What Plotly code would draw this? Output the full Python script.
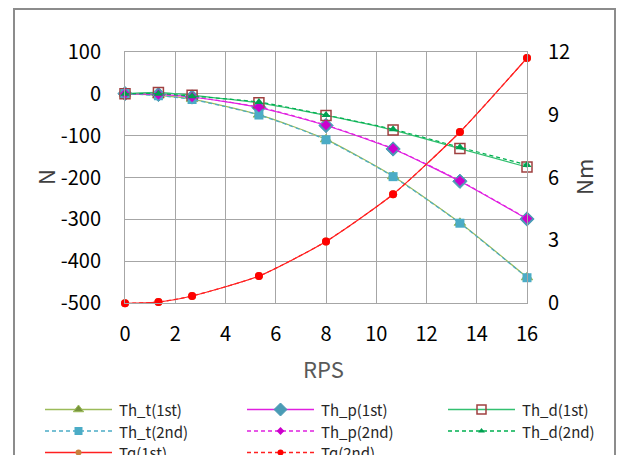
import plotly.graph_objects as go

rps = [0, 1.33, 2.67, 5.33, 8, 10.67, 13.33, 16]
th_t_1st = [0, -4, -13, -50, -109, -197, -308, -438]
th_t_2nd = [0, -5, -14, -51, -110, -198, -309, -439]
th_p_1st = [0, -2, -8, -33, -76, -132, -209, -299]
th_p_2nd = [0, -2, -8, -32, -75, -131, -208, -298]
th_d_1st = [0, 3, -4, -22, -52, -87, -131, -175]
th_d_2nd = [0, 0, -6, -20, -51, -85, -128, -170]
tq_1st = [0, 0.06, 0.35, 1.3, 2.95, 5.2, 8.17, 11.7]
tq_2nd = [0, 0.06, 0.35, 1.3, 2.95, 5.2, 8.17, 11.7]

x_ticks = [0, 2, 4, 6, 8, 10, 12, 14, 16]
n_ticks = [100, 0, -100, -200, -300, -400, -500]
n_tick_text = ["100", "0", "-100", "-200", "-300", "-400", "-500"]
nm_ticks = [0, 3, 6, 9, 12]

FONT = "Noto Sans CJK KR"
W, H = 619, 455
PX0, PX1, PY0, PY1 = 125, 527, 51.7, 303.3   # plot area in pixels
DASH = "4px,3px"

series = [
    # name, data, axis, line color, dash, symbol, size, fill, outline, outline width
    ("Th_t(1st)", th_t_1st, "y", "#9BBB59", "solid", "triangle-up", 10, "#77933C", "#9BBB59", 1),
    ("Th_p(1st)", th_p_1st, "y", "#E020E0", "solid", "diamond", 11, "#4A9BB5", "#4A9BB5", 1),
    ("Th_d(1st)", th_d_1st, "y", "#33C070", "solid", "square-open", 10, "#A04040", "#A04040", 1.5),
    ("Th_t(2nd)", th_t_2nd, "y", "#4BACC6", DASH, "square", 9, "#4BACC6", "#4BACC6", 0),
    ("Th_p(2nd)", th_p_2nd, "y", "#E020E0", DASH, "diamond", 8, "#CC00CC", "#CC00CC", 0),
    ("Th_d(2nd)", th_d_2nd, "y", "#00B050", DASH, "triangle-up", 8, "#00A050", "#00A050", 0),
    ("Tq(1st)", tq_1st, "y2", "#FF2020", "solid", "circle", 8, "#C8803C", "#C8803C", 0),
    ("Tq(2nd)", tq_2nd, "y2", "#FF2020", DASH, "circle", 8, "#FF0000", "#FF0000", 0),
]

fig = go.Figure()
for name, y, ax, lc, dash, sym, ms, mc, mlc, mlw in series:
    fig.add_trace(go.Scatter(
        x=rps, y=y, name=name, yaxis=ax, mode="lines+markers",
        line=dict(color=lc, width=1.2, dash=dash, shape="spline", smoothing=0.6),
        marker=dict(symbol=sym, size=ms, color=mc, line=dict(color=mlc, width=mlw)),
        cliponaxis=False, showlegend=False,
    ))

# custom legend (3 columns)
col_x = [45, 247, 448]
row_y = [409.5, 431, 452.5]
annotations = []
for i, (name, y, ax, lc, dash, sym, ms, mc, mlc, mlw) in enumerate(series):
    cx = col_x[i % 3]
    cy = row_y[i // 3]
    fig.add_trace(go.Scatter(
        x=[cx, cx + 67], y=[cy, cy], xaxis="x3", yaxis="y3", mode="lines",
        line=dict(color=lc, width=1.3, dash=dash),
        showlegend=False, hoverinfo="skip", cliponaxis=False,
    ))
    lms = ms - 1 if ms > 8 else ms - 2
    fig.add_trace(go.Scatter(
        x=[cx + 33.5], y=[cy], xaxis="x3", yaxis="y3", mode="markers",
        marker=dict(symbol=sym, size=lms, color=mc, line=dict(color=mlc, width=mlw)),
        showlegend=False, hoverinfo="skip", cliponaxis=False,
    ))
    annotations.append(dict(xref="x3", yref="y3", x=cx + 73, y=cy, text=name, showarrow=False,
                            xanchor="left", yanchor="middle", borderpad=0,
                            font=dict(size=15, family=FONT, color="#262626")))

# axis titles
annotations += [
    dict(xref="x3", yref="y3", x=45, y=177, text="N", textangle=-90, showarrow=False,
         font=dict(size=22, family=FONT, color="#404040")),
    dict(xref="x3", yref="y3", x=583, y=177, text="Nm", textangle=-90, showarrow=False,
         font=dict(size=22, family=FONT, color="#404040")),
    dict(xref="x3", yref="y3", x=323, y=368, text="RPS", showarrow=False,
         font=dict(size=22, family=FONT, color="#595959")),
]

# outer frame (paper = whole figure, since margins are 0)
shapes = [dict(type="rect", xref="paper", yref="paper",
               x0=14 / W, x1=615 / W, y0=-0.05, y1=1 - 9 / H,
               line=dict(color="#8C8C8C", width=2), fillcolor="rgba(0,0,0,0)", layer="above")]

grid = "#A6A6A6"
fig.update_layout(
    width=W, height=H,
    margin=dict(l=0, r=0, t=0, b=0),
    paper_bgcolor="white", plot_bgcolor="rgba(0,0,0,0)",
    font=dict(family=FONT, size=20, color="#000000"),
    showlegend=False,
    xaxis=dict(domain=[PX0 / W, PX1 / W], anchor="y", range=[0, 16],
               tickvals=x_ticks, ticktext=[str(v) for v in x_ticks],
               showgrid=True, gridcolor=grid, gridwidth=1,
               showline=True, linecolor=grid, mirror=True, zeroline=False,
               ticks="", ticklabelstandoff=13, automargin=False),
    yaxis=dict(domain=[1 - PY1 / H, 1 - PY0 / H], anchor="x", range=[-500, 100],
               tickvals=n_ticks, ticktext=n_tick_text,
               showgrid=True, gridcolor=grid, gridwidth=1,
               showline=True, linecolor=grid, mirror=True, zeroline=False,
               ticks="", ticklabelstandoff=19, automargin=False),
    yaxis2=dict(range=[0, 12], tickvals=nm_ticks, ticktext=[str(v) for v in nm_ticks],
                overlaying="y", side="right", anchor="x", showgrid=False,
                zeroline=False, ticks="", ticklabelstandoff=20, automargin=False),
    xaxis3=dict(domain=[0, 1], range=[0, W], anchor="y3", visible=False, fixedrange=True),
    yaxis3=dict(domain=[0, 1], range=[H, 0], anchor="x3", visible=False, fixedrange=True),
    shapes=shapes,
    annotations=annotations,
)

fig.write_html("out.html", config={"displayModeBar": False},
               post_script="document.body.style.margin='0';")
